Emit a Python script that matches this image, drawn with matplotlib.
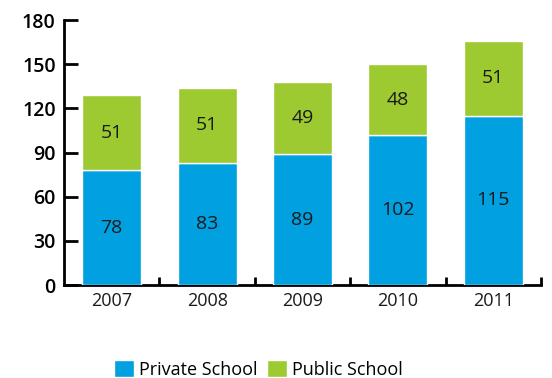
import matplotlib
matplotlib.use("Agg")
import matplotlib.pyplot as plt
from matplotlib.ticker import FixedLocator

years = ["2007", "2008", "2009", "2010", "2011"]
private = [78, 83, 89, 102, 115]
public = [51, 51, 49, 48, 51]
yticks = [0, 30, 60, 90, 120, 150, 180]

blue = "#00A0E1"
green = "#9DCA31"

plt.rcParams['font.family'] = ['Open Sans', 'DejaVu Sans']

fig = plt.figure(figsize=(5.52, 3.78), dpi=100)
ax = fig.add_axes([0.116, 0.246, 0.864, 0.701])

x = list(range(len(years)))
b1 = ax.bar(x, private, width=0.62, color=blue, edgecolor="white", linewidth=1, zorder=3, label="Private School")
b2 = ax.bar(x, public, width=0.62, bottom=private, color=green, edgecolor="white", linewidth=1, zorder=3, label="Public School")

for xi, p, q in zip(x, private, public):
    ax.text(xi, p / 2, str(p), ha="center", va="center", fontsize=14, color="#1a1a1a", zorder=4)
    ax.text(xi, p + q / 2, str(q), ha="center", va="center", fontsize=14, color="#1a1a1a", zorder=4)

ax.set_xlim(-0.5, 4.5)
ax.set_ylim(0, 180)
ax.set_yticks(yticks)
ax.set_yticklabels([str(v) for v in yticks], fontsize=14, fontweight="semibold")
ax.set_xticks(x)
ax.set_xticklabels(years, fontsize=13, color="#1a1a1a")
ax.tick_params(axis="x", which="major", length=0, pad=5)
ax.xaxis.set_minor_locator(FixedLocator([i + 0.5 for i in x]))
ax.tick_params(axis="x", which="minor", direction="in", length=6, width=2)
ax.tick_params(axis="y", which="major", direction="in", length=10, width=2, pad=6)

for s in ["top", "right"]:
    ax.spines[s].set_visible(False)
for s in ["left", "bottom"]:
    ax.spines[s].set_linewidth(2)
    ax.spines[s].set_zorder(2)

leg = fig.legend(handles=[b1, b2], loc="lower center", bbox_to_anchor=(0.468, -0.045), ncol=2,
                 frameon=False, fontsize=13, handlelength=1.1, handleheight=1.1,
                 handletextpad=0.3, columnspacing=0.5)

fig.savefig("out.png", dpi=100)
